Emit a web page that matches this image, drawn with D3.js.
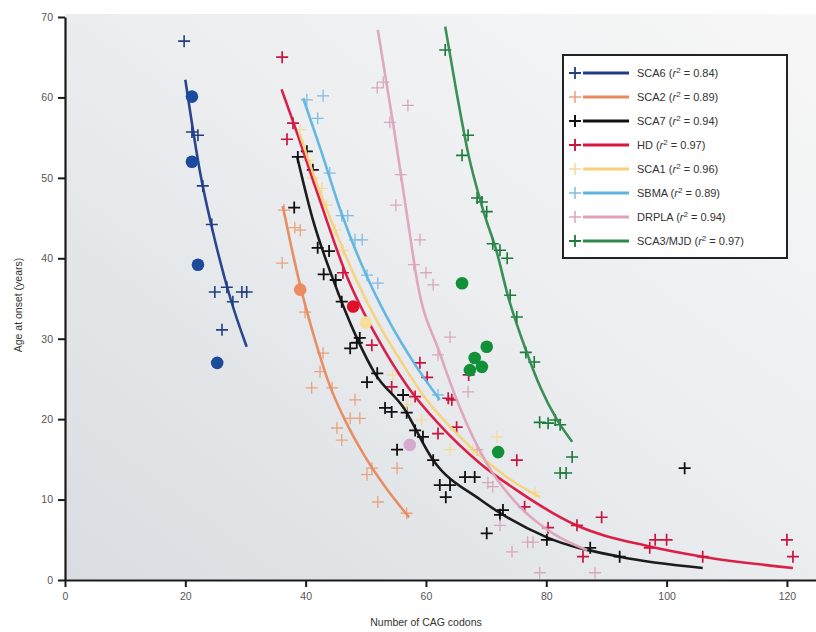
<!DOCTYPE html>
<html><head><meta charset="utf-8">
<script src="https://cdn.jsdelivr.net/npm/d3@7"></script>
<style>body{margin:0;background:#fff}svg{display:block}</style>
</head><body>
<svg id="chart" width="816" height="632"></svg>
<script>
// ---------- data ----------
const names = ["SCA6","SCA2","SCA7","HD","SCA1","SBMA","DRPLA","SCA3/MJD"];
const r2Values = ["0.84","0.89","0.94","0.97","0.96","0.89","0.94","0.97"];
const xTicks = [0,20,40,60,80,100,120];
const yTicks = [0,10,20,30,40,50,60,70];

const sca6Plus = [[19.8,67],[21.1,55.7],[22.1,55.3],[22.9,49],[24.4,44.2],[24.9,35.8],[26.9,36.4],[29.4,35.8],[30.2,35.8],[27.9,34.6],[26.1,31.1]];
const sca6Mean = [[21.1,60.1],[21.1,52],[22.1,39.2],[25.3,27]];
const sca6Fit  = [[20,62.2],[22.5,50.5],[25,42],[27.5,35],[30.2,29]];

const sca2Plus = [[36.4,46],[38.2,43.8],[39.1,43.5],[36.1,39.4],[39.9,33.3],[42.9,28.2],[42.4,25.9],[41,23.9],[44.4,23.9],[48.2,22.4],[47.4,20.1],[49,20.1],[45.2,18.9],[46,17.4],[51,13.9],[50.2,13.1],[55.2,13.9],[52,9.7],[56.8,8.3]];
const sca2Mean = [[39.1,36.1]];
const sca2Fit  = [[36.2,46.5],[37.6,41.5],[39.1,36.6],[41.5,30],[44,24.2],[46.8,19.5],[49.5,15.8],[53,11.8],[57.2,7.8]];

const sca7Plus = [[40.2,53.3],[38.7,52.6],[41.2,51],[38.1,46.3],[42,41.3],[43.9,40.9],[43,38],[45,37.3],[46,34.6],[49,30.1],[47.4,28.8],[48.5,29.5],[51.9,25.7],[50.2,24.6],[56.2,23],[53.2,21.4],[54.3,20.9],[56.8,20.8],[58.2,18.6],[59.5,17.8],[55.2,16.2],[61.2,14.9],[62.3,11.8],[64,11.8],[63.3,10.3],[66.5,12.8],[68.1,12.8],[70.1,5.8],[72.8,8.7],[72.3,8.1],[80.1,5],[87.3,4],[92.2,2.9],[103,13.9]];
const sca7Fit  = [[38.6,52.6],[41.2,44.8],[44.5,37.5],[48.5,30.1],[51.5,25.7],[56.2,21.5],[61.2,14.9],[69,10],[80.1,5.3],[92.2,2.9],[106,1.5]];

const hdPlus = [[36.1,65],[37.9,56.8],[36.9,54.8],[46.2,38.2],[51,29.2],[59,27],[60.2,25.2],[54.3,24],[58.2,22.8],[63.7,22.6],[64.3,22.4],[65.1,19],[62,18.2],[67.1,25.5],[75.1,14.9],[80.3,6.5],[85.1,6.8],[89.2,7.8],[86.1,2.9],[76.4,9.1],[98.1,5],[100,5],[97.2,4],[106,2.9],[120,5],[121,2.9]];
const hdMean = [[47.9,34]];
const hdFit  = [[36,61],[38,56.8],[42,48],[47,37.5],[52,30],[57,24],[62,19.5],[69,14.5],[75,11.2],[85,6.8],[97,4.2],[106,2.9],[121,1.5]];

const sca1Plus = [[39.1,56],[40.4,52.2],[41.2,50],[42.7,48.7],[43.5,46.6],[44.9,43.5],[46.2,41],[54.5,25.5],[56.8,21.8],[64,16.2],[67.8,16.2],[71.8,17.8],[78.1,10.9],[59.3,19.9]];
const sca1Mean = [[50,32]];
const sca1Fit  = [[39,55.5],[42,49],[45,43.3],[48,38],[52,32],[56,27],[60,22.5],[65,18.3],[70,14.8],[75,12],[79,10.3]];

const sbmaPlus = [[40.2,59.7],[42.9,60.2],[42,57.4],[44,50.6],[46,45.3],[47,45.3],[48.2,42.3],[49.4,42.3],[50.2,37.9],[52,36.9],[62,23]];
const sbmaFit  = [[39.6,59.9],[42.5,53.5],[46,45.5],[50.2,37.7],[54,32],[58,27],[62.3,22.4]];

const drplaPlus = [[51.9,61.2],[52.9,61.9],[54,56.9],[57,59],[55.8,50.4],[55,46.6],[59,42.3],[58,39.2],[60,38.2],[61.2,36.7],[64,30.2],[62,28],[67,23.4],[68.5,16.2],[71.1,11.6],[70.3,12.1],[72.3,6.8],[74.3,3.5],[76.9,4.7],[77.8,4.7],[78.9,0.9],[88.1,0.9]];
const drplaMean = [[57.3,16.8]];
const drplaFit  = [[52,68.4],[54.7,56],[57.3,43.1],[58.5,37.3],[62.3,28.2],[65.6,21.5],[70.1,14.5],[75.6,9.1],[81.1,5.8],[86.8,3.7]];

const sca3Plus = [[63.2,65.9],[67,55.3],[66,52.8],[68.5,47.5],[69.3,47],[70.1,45.8],[71.1,41.8],[72.3,41],[73.5,40],[74,35.4],[75.1,32.7],[76.6,28.3],[78,27.1],[78.9,19.6],[80.3,19.5],[81.5,19.9],[82.3,19.3],[84.3,15.3],[82.3,13.3],[83.3,13.3]];
const sca3Mean = [[66,36.9],[70.1,29],[68.1,27.6],[69.3,26.5],[67.3,26.1],[72,15.9]];
const sca3Fit  = [[63.2,68.8],[65,61],[67,53.1],[69.5,46],[71.8,40.7],[73.6,35.4],[76.8,28.2],[79,24],[81.8,19.9],[84.3,17.2]];

// ---------- styling table ----------
const lineColors = ["#1f3d8a","#e8895e","#111111","#d9143f","#f7d27a","#5db4e2","#dea3bb","#2f8a4c"];
const plusColors = ["#22407f","#e9a27e","#111111","#c8163e","#f2dc9a","#7fbde3","#d9a7bd","#1b7a3c"];
const dotColors  = ["#1c4b9b","#ec8a60","#111","#e0102a","#f6df9a","#9ccbe6","#d6a9cf","#119038"];
const plusWidths = [1.6,1.3,1.8,1.7,1.3,1.3,1.3,1.6];

const series = [
  {plus:sca6Plus, mean:sca6Mean, fit:sca6Fit},
  {plus:sca2Plus, mean:sca2Mean, fit:sca2Fit},
  {plus:sca7Plus, mean:[], fit:sca7Fit},
  {plus:hdPlus, mean:hdMean, fit:hdFit},
  {plus:sca1Plus, mean:sca1Mean, fit:sca1Fit},
  {plus:sbmaPlus, mean:[], fit:sbmaFit},
  {plus:drplaPlus, mean:drplaMean, fit:drplaFit},
  {plus:sca3Plus, mean:sca3Mean, fit:sca3Fit}
].map((s,i)=>Object.assign(s,{name:names[i], r2:r2Values[i], i}));

// ---------- chart ----------
const svg = d3.select("#chart");
const x = d3.scaleLinear().domain([0,125]).range([65,817]);
const y = d3.scaleLinear().domain([0,70]).range([580,17]);

const defs = svg.append("defs");
const grad = defs.append("linearGradient").attr("id","bg").attr("x1","0").attr("y1","1").attr("x2","1").attr("y2","0");
grad.append("stop").attr("offset","0%").attr("stop-color","#d9dde1");
grad.append("stop").attr("offset","55%").attr("stop-color","#eceef0");
grad.append("stop").attr("offset","100%").attr("stop-color","#f7f7f7");
svg.append("rect").attr("x",x(0)).attr("y",14).attr("width",816-x(0)).attr("height",y(0)-14).attr("fill","url(#bg)");

const plusPath = s => `M${-s},0H${s}M0,${-s}V${s}`;
const line = d3.line().x(d=>x(d[0])).y(d=>y(d[1])).curve(d3.curveMonotoneX);

// pluses
series.forEach(s=>{
  svg.append("g").selectAll("path").data(s.plus).join("path")
    .attr("transform",d=>`translate(${x(d[0])},${y(d[1])})`)
    .attr("d",plusPath(6))
    .attr("stroke",plusColors[s.i]).attr("stroke-width",plusWidths[s.i]).attr("fill","none");
});
// fit lines
series.forEach(s=>{
  svg.append("path").datum(s.fit).attr("d",line)
    .attr("fill","none").attr("stroke",lineColors[s.i]).attr("stroke-width",2.6).attr("stroke-opacity",0.95);
});
// mean circles
series.forEach(s=>{
  svg.append("g").selectAll("circle").data(s.mean).join("circle")
    .attr("cx",d=>x(d[0])).attr("cy",d=>y(d[1])).attr("r",6.3)
    .attr("fill",dotColors[s.i]);
});

// axes
const yAxis = svg.append("g").attr("transform",`translate(${x(0)},0)`)
  .call(d3.axisLeft(y).tickValues(yTicks).tickSize(7).tickSizeOuter(0).tickPadding(5));
const xAxis = svg.append("g").attr("transform",`translate(0,${y(0)})`)
  .call(d3.axisBottom(x).tickValues(xTicks).tickSize(7).tickSizeOuter(0).tickPadding(6));
[yAxis,xAxis].forEach(a=>{
  a.select(".domain").attr("stroke","#1a1a1a").attr("stroke-width",2.2);
  a.selectAll(".tick line").attr("stroke","#1a1a1a").attr("stroke-width",2);
  a.selectAll(".tick text").attr("font-family","Liberation Sans, Arial, sans-serif").attr("font-size",10.5).attr("fill","#555");
});

svg.append("text").attr("x",426).attr("y",626).attr("text-anchor","middle")
  .attr("font-family","Liberation Sans, Arial, sans-serif").attr("font-size",10.5).attr("fill","#333")
  .text("Number of CAG codons");
svg.append("text").attr("transform","translate(22,305) rotate(-90)").attr("text-anchor","middle")
  .attr("font-family","Liberation Sans, Arial, sans-serif").attr("font-size",10.5).attr("fill","#333")
  .text("Age at onset (years)");

// legend
const lg = svg.append("g");
lg.append("rect").attr("x",563).attr("y",55).attr("width",224).attr("height",203)
  .attr("fill","#fff").attr("stroke","#222").attr("stroke-width",2);
series.forEach((s,k)=>{
  const yy = 73 + k*24;
  lg.append("path").attr("transform",`translate(575,${yy})`).attr("d",plusPath(6))
    .attr("stroke",plusColors[s.i]).attr("stroke-width",plusWidths[s.i]+0.2).attr("fill","none");
  lg.append("line").attr("x1",583).attr("x2",629).attr("y1",yy).attr("y2",yy)
    .attr("stroke",lineColors[s.i]).attr("stroke-width",3);
  const t = lg.append("text").attr("x",637).attr("y",yy+4)
    .attr("font-family","Liberation Sans, Arial, sans-serif").attr("font-size",11).attr("fill","#333");
  t.append("tspan").text(s.name+" (");
  t.append("tspan").attr("font-style","italic").text("r");
  t.append("tspan").attr("dy",-4).attr("font-size",8).text("2");
  t.append("tspan").attr("dy",4).text(" = "+s.r2+")");
});
</script>
</body></html>
